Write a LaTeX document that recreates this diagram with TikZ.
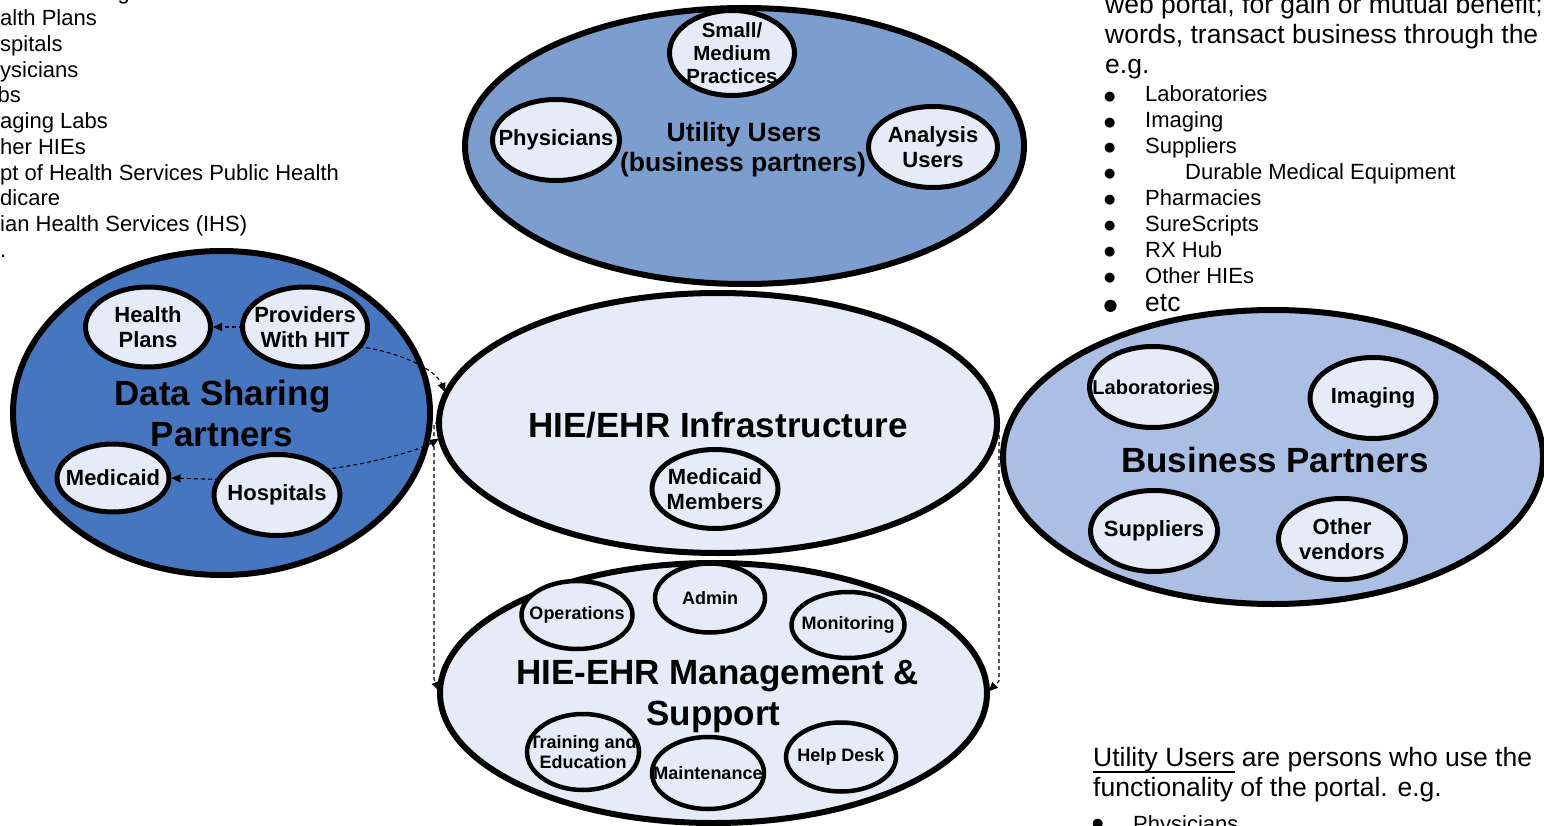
\documentclass[tikz,border=0pt]{standalone}
\usepackage{fontspec}
\setmainfont{Liberation Sans}
\newfontfamily\dejavu{DejaVu Sans}
\usetikzlibrary{shapes.geometric,arrows.meta,calc}
\definecolor{dspfill}{RGB}{70,118,192}
\definecolor{utilfill}{RGB}{123,158,207}
\definecolor{bpfill}{RGB}{170,191,227}
\definecolor{lightfill}{RGB}{230,236,247}
\newcommand\ulbar[1]{\setbox0=\hbox{#1}\rlap{\rule[-7pt]{\wd0}{1.6pt}}\box0\relax}
\newcommand\bigbul[2]{\raisebox{#2}{\dejavu\fontsize{#1}{#1}\selectfont ●}}
\begin{document}
\begin{tikzpicture}[x=1pt,y=-1pt,
  outerell/.style={ellipse, draw=black, line width=6pt, inner sep=0pt, outer sep=0pt},
  bub/.style={ellipse, fill=lightfill, inner sep=-22pt, outer sep=0pt, align=center,
    font=\bfseries\fontsize{22}{25}\selectfont},
  sbub/.style={bub, font=\bfseries\fontsize{18}{20}\selectfont},
  title/.style={anchor=base, inner sep=0pt, font=\bfseries\fontsize{35}{41}\selectfont},
  utitle/.style={anchor=base, inner sep=0pt, font=\bfseries\fontsize{26.5}{30}\selectfont},
  lt/.style={anchor=base west, inner sep=0pt, font=\fontsize{22}{26}\selectfont},
  bt/.style={anchor=base west, inner sep=0pt, font=\fontsize{26.5}{30}\selectfont},
  conn/.style={draw, line width=1.1pt, dash pattern=on 4pt off 3pt,
    -{Triangle[length=9pt,width=8pt]}, shorten >=2.5pt}
]
\useasboundingbox (0,0) rectangle (1544,826);

% outer ellipses
\node[outerell, fill=utilfill, minimum width=559pt, minimum height=276pt] (util) at (744.5,146) {};
\node[outerell, fill=dspfill, minimum width=417pt, minimum height=324pt] (dsp) at (221.5,413) {};
\node[outerell, fill=bpfill, minimum width=540pt, minimum height=294pt] (bp) at (1273,457) {};
\node[outerell, fill=lightfill, minimum width=558pt, minimum height=260pt] (infra) at (718,423) {};
\node[outerell, fill=lightfill, minimum width=547pt, minimum height=260pt] (mgmt) at (713.5,693) {};

% bubbles
\node[bub, font=\bfseries\fontsize{20.5}{23}\selectfont, minimum width=125pt, minimum height=85pt] (smp) at (732,53) {Small/\\Medium\\Practices};
\node[bub, minimum width=127pt, minimum height=81pt] (phys) at (556,140) {Physicians};
\node[bub, minimum width=129pt, minimum height=81pt] (anal) at (933,147) {Analysis\\Users};
\node[bub, minimum width=125pt, minimum height=80pt] (hp) at (148,327) {Health\\Plans};
\node[bub, minimum width=125pt, minimum height=80pt] (prov) at (305,327) {Providers\\With HIT};
\node[bub, minimum width=112pt, minimum height=68pt] (medi) at (113,478) {Medicaid};
\node[bub, minimum width=126pt, minimum height=81pt] (hosp) at (277,495) {Hospitals};
\node[bub, minimum width=126pt, minimum height=79pt] (mm) at (715,489) {Medicaid\\Members};
\node[bub, font=\bfseries\fontsize{20}{24}\selectfont, minimum width=127pt, minimum height=81pt] (lab) at (1153,387) {Laboratories};
\node[bub, minimum width=126pt, minimum height=81pt] (img) at (1373,398) {Imaging};
\node[bub, minimum width=127pt, minimum height=81pt] (sup) at (1154,531) {Suppliers};
\node[bub, minimum width=127pt, minimum height=81pt] (oth) at (1342,539) {Other\\vendors};
\node[sbub, minimum width=111pt, minimum height=68pt] (ops) at (577,615) {Operations};
\node[sbub, minimum width=110pt, minimum height=69pt] (admin) at (710,598) {Admin};
\node[sbub, minimum width=113pt, minimum height=66pt] (mon) at (848,625) {Monitoring};
\node[sbub, minimum width=112pt, minimum height=76pt] (train) at (583,752) {Training and\\Education};
\node[sbub, minimum width=112pt, minimum height=72pt] (maint) at (708,773) {Maintenance};
\node[sbub, minimum width=110pt, minimum height=69pt] (help) at (841,757) {Help Desk};

% bubble borders drawn over their texts
\foreach \bb/\lw in {smp/5pt,phys/5pt,anal/5pt,hp/5pt,prov/5pt,medi/5pt,hosp/5pt,mm/5pt,
  lab/5pt,img/5pt,sup/5pt,oth/5pt,ops/4.5pt,admin/4.5pt,mon/4.5pt,train/4.5pt,maint/4.5pt,help/4.5pt}
  \draw[line width=\lw] let \p1=(\bb.center), \p2=(\bb.east), \p3=(\bb.north) in
    (\p1) ellipse [x radius=\x2-\x1, y radius=\y3-\y1];

% titles
\node[utitle] (ut1) at (744,142) {Utility Users};
\node[utitle] (ut2) at (743,172) {(business partners)};
\node[title] (dt1) at (222.5,405) {Data Sharing};
\node[title] (dt2) at (222,446) {Partners};
\node[title] (it) at (718,437) {HIE/EHR Infrastructure};
\node[title] (bpt) at (1275,472) {Business Partners};
\node[title] (mt1) at (717.5,684) {HIE-EHR Management \&};
\node[title] (mt2) at (713.5,725) {Support};

% connectors
\coordinate (lv) at (434,679);
\coordinate (rv) at (999,681);
\draw[conn] (prov.west) -- (hp.east);
\draw[conn] (hosp.165) -- (medi.east);
\draw[conn] (prov.-20) .. controls +(40,5) and +(-10,-25) .. (infra.174);
\draw[conn] (hosp.28) .. controls +(45,-5) and +(-20,12) .. (infra.183);
\draw[conn] (infra.west) -- (lv |- infra.west) -- (lv) -- (mgmt.west);
\draw[conn] (infra.east) -- (rv |- infra.east) -- (rv) -- (mgmt.east);

% left text (cut off at the page edge)
\node[lt] (l0) at (117.5,0) {g};
\node[lt] (l1) at (0,25.7) {alth Plans};
\node[lt] (l2) at (0,51.5) {spitals};
\node[lt] (l3) at (0,77.2) {ysicians};
\node[lt] (l4) at (-2.5,103) {bs};
\node[lt] (l5) at (0,128.7) {aging Labs};
\node[lt] (l6) at (0,154.5) {her HIEs};
\node[lt] (l7) at (0,180.2) {pt of Health Services Public Health};
\node[lt] (l8) at (0,206) {dicare};
\node[lt] (l9) at (0,231.7) {ian Health Services (IHS)};
\node[lt] (l10) at (0,257.5) {.};

% top right text
\node[bt] (r1) at (1105,13.5) {web portal, for gain or mutual benefit;};
\node[bt] (r2) at (1105,43.5) {words, transact business through the};
\node[bt] (r3) at (1105,74) {e.g.};
\foreach \i/\yy/\xx/\t in {1/101.7/1145/Laboratories, 2/127.6/1145/Imaging, 3/153.5/1145/Suppliers,
  4/179.5/1185/Durable Medical Equipment, 5/205.4/1145/Pharmacies, 6/231.3/1145/SureScripts,
  7/257.2/1145/RX Hub, 8/283.2/1145/Other HIEs}{
  \node[lt] (rb\i) at (1104,\yy) {\bigbul{13}{1.5pt}};
  \node[lt] (ri\i) at (\xx,\yy) {\t};
}
\node[bt] (rb9) at (1103.5,311.7) {\bigbul{16}{1.5pt}};
\node[bt] (ri9) at (1145,311.7) {etc};

% bottom right text
\node[bt] (u1) at (1093,766) {\ulbar{Utility Users} are persons who use the};
\node[bt] (u2) at (1093,796) {functionality of the portal. e.g.};
\node[lt] (u3b) at (1092,831) {\bigbul{13}{4pt}};
\node[lt] (u3) at (1133,831) {Physicians};
\end{tikzpicture}
\end{document}
